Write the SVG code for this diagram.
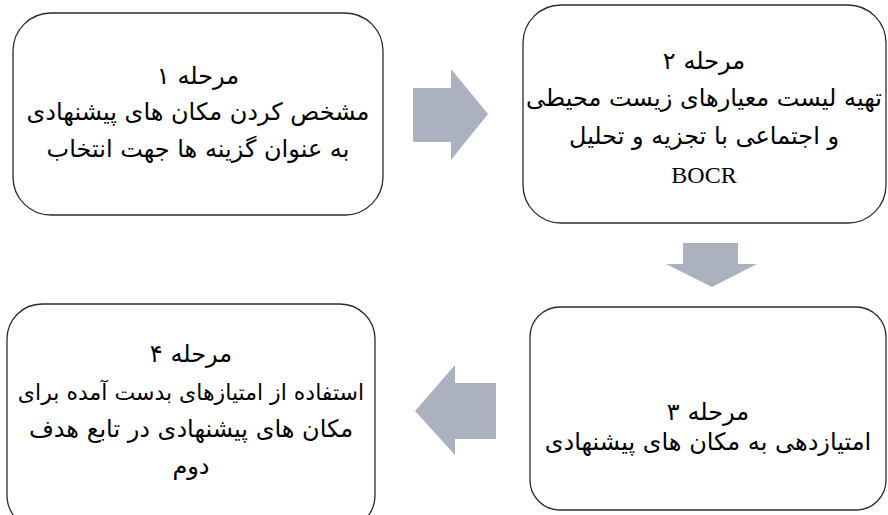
<svg xmlns="http://www.w3.org/2000/svg" width="888" height="515" viewBox="0 0 888 515">
<style>
.box{fill:#fff;stroke:#2b2b2b;stroke-width:1.3}
.arr{fill:#acb1bf}
.t{font-family:"DejaVu Sans",sans-serif;font-size:24px;fill:#000;text-anchor:middle}
.l{font-family:"Liberation Serif",serif;font-size:24px;fill:#000;text-anchor:middle}
</style>
<rect width="888" height="515" fill="#fff"/>
<g id="connectors">
<polygon class="arr" points="413,88 451,88 451,69 488,114 451,160 451,142 413,142"/>
<polygon class="arr" points="683,243 738,243 738,264 757,264 712,287 666,264 683,264"/>
<polygon class="arr" points="496,383 455,383 455,365 415,411 455,455 455,439 496,439"/>
</g>
<g id="node1">
<rect class="box" x="13" y="13" width="370" height="202" rx="38" ry="38"/>
<text class="t" direction="rtl" x="198" y="84">مرحله ۱</text>
<text class="t" direction="rtl" x="198" y="120">مشخص کردن مکان های پیشنهادی</text>
<text class="t" direction="rtl" x="198" y="157">به عنوان گزینه ها جهت انتخاب</text>
</g>
<g id="node2">
<rect class="box" x="523" y="5" width="363" height="218" rx="38" ry="38"/>
<text class="t" direction="rtl" x="704" y="69">مرحله ۲</text>
<text class="t" direction="rtl" x="704" y="106">تهیه لیست معیارهای زیست محیطی</text>
<text class="t" direction="rtl" x="704" y="144">و اجتماعی با تجزیه و تحلیل</text>
<text class="l" x="704" y="183">BOCR</text>
</g>
<g id="node3">
<rect class="box" x="530" y="307" width="356" height="203" rx="30" ry="30"/>
<text class="t" direction="rtl" x="708" y="420">مرحله ۳</text>
<text class="t" direction="rtl" x="708" y="450">امتیازدهی به مکان های پیشنهادی</text>
</g>
<g id="node4">
<rect class="box" x="7" y="304" width="368" height="226" rx="35" ry="35"/>
<text class="t" direction="rtl" x="191" y="362">مرحله ۴</text>
<text class="t" direction="rtl" x="191" y="400" style="font-size:22px">استفاده از امتیازهای بدست آمده برای</text>
<text class="t" direction="rtl" x="191" y="437">مکان های پیشنهادی در تابع هدف</text>
<text class="t" direction="rtl" x="191" y="474">دوم</text>
</g>
</svg>
